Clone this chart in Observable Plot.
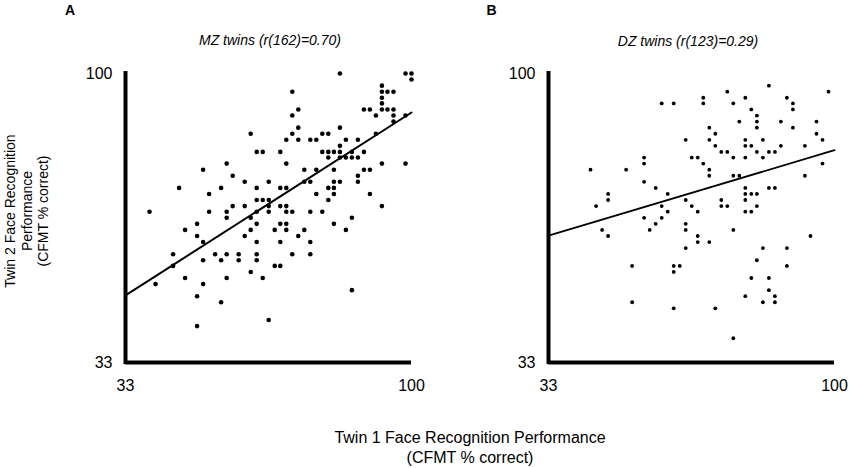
<!DOCTYPE html>
<html><head><meta charset="utf-8">
<script src="https://cdn.jsdelivr.net/npm/d3@7"></script>
<script src="https://cdn.jsdelivr.net/npm/@observablehq/plot@0.6"></script>
<style>
body{margin:0;background:#fff;}
#wrap{position:relative;width:850px;height:468px;font-family:"Liberation Sans",Arial,sans-serif;color:#000;overflow:hidden;}
.panel{position:absolute;top:0;}
.lbl{position:absolute;white-space:nowrap;line-height:1;transform:translate(-50%,-50%);}
</style></head><body><div id="wrap"></div>
<script>
// Tick values / labels
const tickValues = [33.3, 100];
const tickLabels = ["33", "100"];

// Panel A: MZ twins (% correct)
const mzTwin1 = [83.3,98.6,100,100,93.1,93.1,94.4,95.8,72.2,93.1,
93.1,73.6,88.9,90.3,93.1,94.4,95.8,72.2,91.7,95.8,
98.6,95.8,73.6,83.3,62.5,72.2,79.2,80.6,91.7,70.8,
73.6,76.4,77.8,84.7,87.5,83.3,63.9,65.3,69.4,79.2,
80.6,81.9,83.3,86.1,88.9,80.6,83.3,84.7,86.1,87.5,
56.9,70.8,93.1,98.6,51.4,75.0,77.8,81.9,88.9,90.3,
58.3,87.5,61.1,66.7,75.0,76.4,81.9,83.3,87.5,45.8,
55.6,63.9,69.4,70.8,80.6,81.9,52.8,77.8,81.9,90.3,
63.9,65.3,66.7,80.6,58.3,61.1,66.7,69.4,70.8,93.1,
38.9,52.8,56.9,63.9,66.7,70.8,72.2,76.4,79.2,56.9,
62.5,86.1,50.0,63.9,69.4,70.8,81.9,47.2,62.5,68.1,
70.8,75.0,84.7,50.0,61.1,73.6,51.4,63.9,69.4,76.4,
44.4,54.2,56.9,59.7,63.9,72.2,76.4,51.4,55.6,59.7,
63.9,44.4,68.1,69.4,62.5,47.2,56.9,65.3,40.3,51.4,
86.1,50.0,55.6,66.7,50.0];
const mzTwin2 = [100,100,100,98.6,97.2,95.8,95.8,95.8,95.8,94.4,
93.1,91.7,91.7,91.7,91.7,91.7,91.7,90.3,90.3,90.3,
90.3,88.9,87.5,87.5,86.1,86.1,86.1,86.1,86.1,84.7,
84.7,84.7,84.7,84.7,84.7,83.3,81.9,81.9,81.9,81.9,
81.9,81.9,81.9,81.9,81.9,80.6,80.6,80.6,80.6,80.6,
79.2,79.2,79.2,79.2,77.8,77.8,77.8,77.8,77.8,77.8,
76.4,76.4,75.0,75.0,75.0,75.0,75.0,75.0,75.0,73.6,
73.6,73.6,73.6,73.6,73.6,73.6,72.2,72.2,72.2,72.2,
70.8,70.8,70.8,70.8,69.4,69.4,69.4,69.4,69.4,69.4,
68.1,68.1,68.1,68.1,68.1,68.1,68.1,68.1,68.1,66.7,
66.7,66.7,65.3,65.3,65.3,65.3,65.3,63.9,63.9,63.9,
63.9,63.9,63.9,62.5,62.5,62.5,61.1,61.1,61.1,61.1,
58.3,58.3,58.3,58.3,58.3,58.3,58.3,56.9,56.9,56.9,
56.9,55.6,55.6,55.6,54.2,52.8,52.8,52.8,51.4,51.4,
50.0,48.6,47.2,43.1,41.7];
const mzFitX = [33.3, 100];
const mzFitY = [48.8, 91.0];

// Panel B: DZ twins (% correct)
const dzTwin1 = [84.7,75.0,98.6,69.4,79.2,88.9,59.7,62.5,69.4,76.4,
90.3,80.6,90.3,81.9,77.8,81.9,87.5,95.8,70.8,81.9,
90.3,72.2,95.8,65.3,70.8,79.2,83.3,97.2,72.2,79.2,
80.6,87.5,93.1,73.6,75.0,81.9,84.7,86.1,55.6,66.7,
68.1,76.4,79.2,83.3,55.6,69.4,97.2,43.1,51.4,70.8,
70.8,76.4,77.8,93.1,55.6,58.3,79.2,84.7,86.1,47.2,
61.1,79.2,80.6,81.9,47.2,65.3,73.6,79.2,44.4,59.7,
66.7,73.6,75.0,81.9,61.1,68.1,79.2,80.6,55.6,59.7,
58.3,65.3,45.8,56.9,65.3,76.4,47.2,68.1,94.4,68.1,
70.8,65.3,83.3,88.9,81.9,52.8,62.5,63.9,88.9,62.5,
80.6,84.7,84.7,79.2,86.1,52.8,83.3,86.1,62.5,72.2,
76.4];
const dzTwin2 = [97.2,95.8,95.8,94.4,94.4,94.4,93.1,93.1,93.1,93.1,
93.1,91.7,91.7,90.3,88.9,88.9,88.9,88.9,87.5,87.5,
87.5,86.1,86.1,84.7,84.7,84.7,84.7,84.7,83.3,83.3,
83.3,83.3,83.3,81.9,81.9,81.9,81.9,81.9,80.6,80.6,
80.6,80.6,80.6,80.6,79.2,79.2,79.2,77.8,77.8,77.8,
76.4,76.4,76.4,76.4,75.0,73.6,73.6,73.6,73.6,72.2,
72.2,72.2,72.2,72.2,70.8,70.8,70.8,70.8,69.4,69.4,
69.4,69.4,69.4,69.4,68.1,68.1,68.1,68.1,66.7,66.7,
65.3,65.3,63.9,63.9,63.9,63.9,62.5,62.5,62.5,61.1,
61.1,59.7,59.7,59.7,56.9,55.6,55.6,55.6,55.6,54.2,
52.8,52.8,50.0,48.6,48.6,47.2,47.2,47.2,45.8,45.8,
38.9];
const dzFitX = [33.3, 100];
const dzFitY = [62.6, 82.3];

const wrap = document.getElementById("wrap");

function panel(t1, t2, fx, fy, o) {
  const pts = t1.map((x, i) => ({x, y: t2[i]}));
  const fit = fx.map((x, i) => ({x, y: fy[i]}));
  const fmt = d => tickLabels[tickValues.indexOf(d)];
  const p = Plot.plot({
    width: 425, height: 468,
    marginLeft: o.ml, marginRight: o.mr, marginTop: 73, marginBottom: 106,
    style: {fontFamily: "'Liberation Sans', Arial, sans-serif", fontSize: "16px", background: "transparent", color: "#000", overflow: "visible"},
    x: {domain: [tickValues[0], tickValues[1]], ticks: tickValues, tickFormat: fmt, tickSize: 0, tickPadding: 17, label: null},
    y: {domain: [tickValues[0], tickValues[1]], ticks: tickValues, tickFormat: fmt, tickSize: 0, tickPadding: 13, label: null},
    marks: [
      Plot.ruleX([tickValues[0]], {stroke: "#000", strokeWidth: 4, strokeLinecap: "square"}),
      Plot.ruleY([tickValues[0]], {stroke: "#000", strokeWidth: 4}),
      Plot.dot(pts, {x: "x", y: "y", r: o.r, fill: "#000", stroke: "none"}),
      Plot.line(fit, {x: "x", y: "y", stroke: "#000", strokeWidth: o.sw})
    ]
  });
  p.classList.add("panel");
  p.style.left = o.left + "px";
  wrap.appendChild(p);
}

panel(mzTwin1, mzTwin2, mzFitX, mzFitY, {left: 0, ml: 125, mr: 14, r: 2.3, sw: 2});
panel(dzTwin1, dzTwin2, dzFitX, dzFitY, {left: 425, ml: 123, mr: 16, r: 1.9, sw: 1.8});

function label(html, x, y, css) {
  const d = document.createElement("div");
  d.className = "lbl";
  d.innerHTML = html;
  d.style.left = x + "px";
  d.style.top = y + "px";
  Object.assign(d.style, css || {});
  wrap.appendChild(d);
  return d;
}
label("A", 70, 10, {fontWeight: "bold", fontSize: "14px"});
label("B", 491.5, 9.5, {fontWeight: "bold", fontSize: "14px"});
label("MZ twins (r(162)=0.70)", 270, 40, {fontStyle: "italic", fontSize: "14px"});
label("DZ twins (r(123)=0.29)", 688, 41, {fontStyle: "italic", fontSize: "14px"});
label("Twin 2 Face Recognition<br>Performance<br>(CFMT % correct)", 26.5, 211,
  {fontSize: "14px", lineHeight: "16.5px", textAlign: "center", transform: "translate(-50%,-50%) rotate(-90deg)"});
label("Twin 1 Face Recognition Performance<br>(CFMT % correct)", 470, 448,
  {fontSize: "16px", lineHeight: "20px", textAlign: "center"});
</script>
</body></html>
